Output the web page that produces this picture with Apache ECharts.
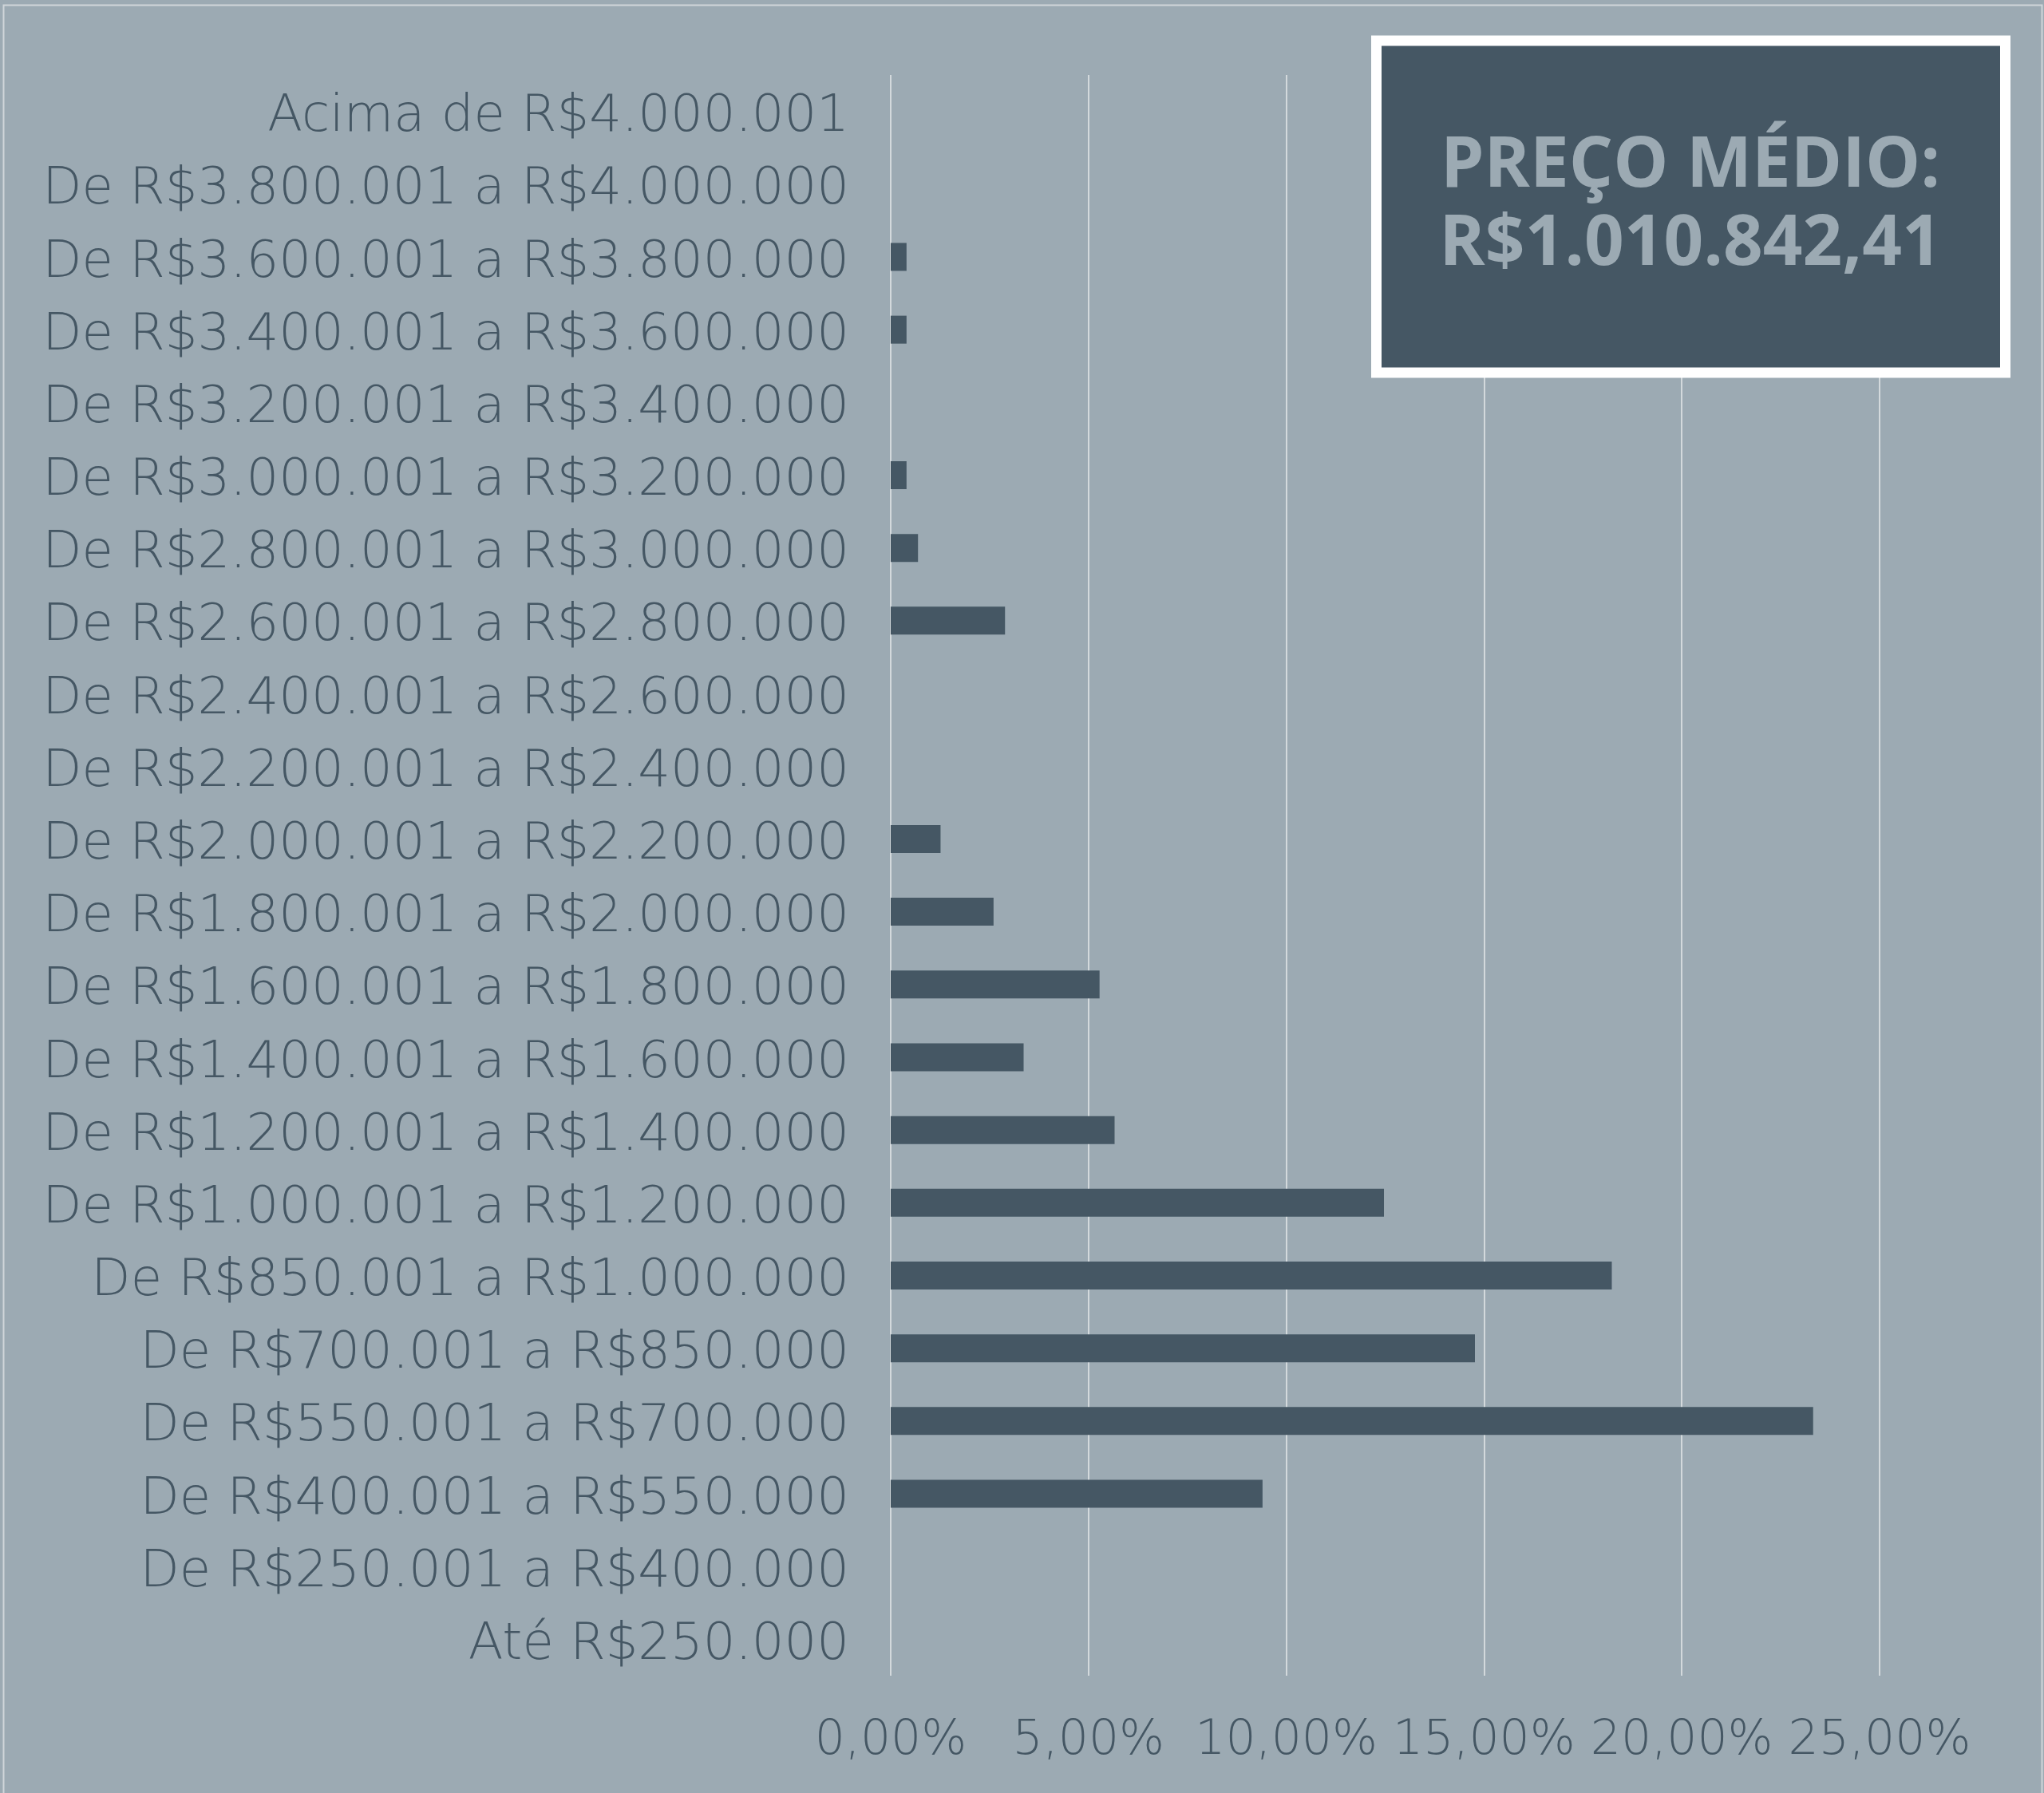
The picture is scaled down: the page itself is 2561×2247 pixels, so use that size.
<!DOCTYPE html>
<html>
<head>
<meta charset="utf-8">
<script src="https://cdn.jsdelivr.net/npm/echarts@6/dist/echarts.min.js"></script>
<style>
html,body{margin:0;padding:0;background:#9caab3;}
#chart{width:2561px;height:2247px;}
</style>
</head>
<body>
<div id="chart"></div>
<script>
// Categories from bottom to top
const categories = [
  'Até R$250.000',
  'De R$250.001 a R$400.000',
  'De R$400.001 a R$550.000',
  'De R$550.001 a R$700.000',
  'De R$700.001 a R$850.000',
  'De R$850.001 a R$1.000.000',
  'De R$1.000.001 a R$1.200.000',
  'De R$1.200.001 a R$1.400.000',
  'De R$1.400.001 a R$1.600.000',
  'De R$1.600.001 a R$1.800.000',
  'De R$1.800.001 a R$2.000.000',
  'De R$2.000.001 a R$2.200.000',
  'De R$2.200.001 a R$2.400.000',
  'De R$2.400.001 a R$2.600.000',
  'De R$2.600.001 a R$2.800.000',
  'De R$2.800.001 a R$3.000.000',
  'De R$3.000.001 a R$3.200.000',
  'De R$3.200.001 a R$3.400.000',
  'De R$3.400.001 a R$3.600.000',
  'De R$3.600.001 a R$3.800.000',
  'De R$3.800.001 a R$4.000.000',
  'Acima de R$4.000.001'
];
// Share of units (%)
const shares = [
  0, 0, 9.40, 23.32, 14.77, 18.23, 12.47, 5.66, 3.36, 5.28, 2.60,
  1.26, 0, 0, 2.89, 0.69, 0.40, 0, 0.40, 0.40, 0, 0
];
const xTicks = [0, 5, 10, 15, 20, 25];
const boxTitle = 'PREÇO MÉDIO:';
const boxValue = 'R$1.010.842,41';

const BG = '#9caab3';
const DARK = '#455764';
const chart = echarts.init(document.getElementById('chart'), null, {renderer: 'canvas'});
const labelFont = '"DejaVu Sans", sans-serif';

chart.setOption({
  backgroundColor: BG,
  animation: false,
  grid: [
    {left: 1116, right: 206, top: 94, bottom: 147, containLabel: false},
    // label grid, nudged down slightly to match the reference text baseline
    {left: 1116, right: 206, top: 102, bottom: 139, containLabel: false}
  ],
  xAxis: [{
    type: 'value',
    gridIndex: 0,
    min: xTicks[0],
    max: xTicks[xTicks.length - 1],
    interval: 5,
    axisLine: {show: false},
    axisTick: {show: false},
    splitLine: {show: true, lineStyle: {color: '#d3d9dc', width: 2}},
    axisLabel: {
      margin: 52,
      color: DARK,
      fontFamily: labelFont,
      fontWeight: 300,
      fontSize: 60,
      formatter: v => v.toFixed(2).replace('.', ',') + '%'
    }
  }, {
    type: 'value',
    gridIndex: 1,
    min: 0, max: 25,
    show: false
  }],
  yAxis: [{
    type: 'category',
    gridIndex: 0,
    data: categories,
    axisLine: {show: false},
    axisTick: {show: false},
    splitLine: {show: false},
    axisLabel: {show: false}
  }, {
    type: 'category',
    gridIndex: 1,
    data: categories,
    axisLine: {show: false},
    axisTick: {show: false},
    splitLine: {show: false},
    axisLabel: {
      margin: 52,
      color: DARK,
      fontFamily: labelFont,
      fontWeight: 300,
      fontSize: 64
    }
  }],
  series: [{
    type: 'bar',
    xAxisIndex: 0,
    yAxisIndex: 0,
    data: shares,
    barWidth: 35,
    itemStyle: {color: DARK},
    silent: true
  }],
  graphic: [
    {
      type: 'rect',
      shape: {x: 4.5, y: 6.5, width: 2554, height: 2300},
      style: {fill: 'none', stroke: '#d0d6da', lineWidth: 2},
      silent: true
    },
    {
      type: 'rect',
      shape: {x: 1724.5, y: 51, width: 788, height: 416},
      style: {fill: DARK, stroke: '#ffffff', lineWidth: 13},
      z: 10
    },
    {
      type: 'text',
      x: 2118, y: 209,
      style: {text: boxTitle, fill: BG, font: 'bold 87px "Open Sans", sans-serif', textAlign: 'center', textVerticalAlign: 'middle'},
      z: 11
    },
    {
      type: 'text',
      x: 2118, y: 307,
      style: {text: boxValue, fill: BG, font: 'bold 87px "Open Sans", sans-serif', textAlign: 'center', textVerticalAlign: 'middle'},
      z: 11
    }
  ]
});
</script>
</body>
</html>
